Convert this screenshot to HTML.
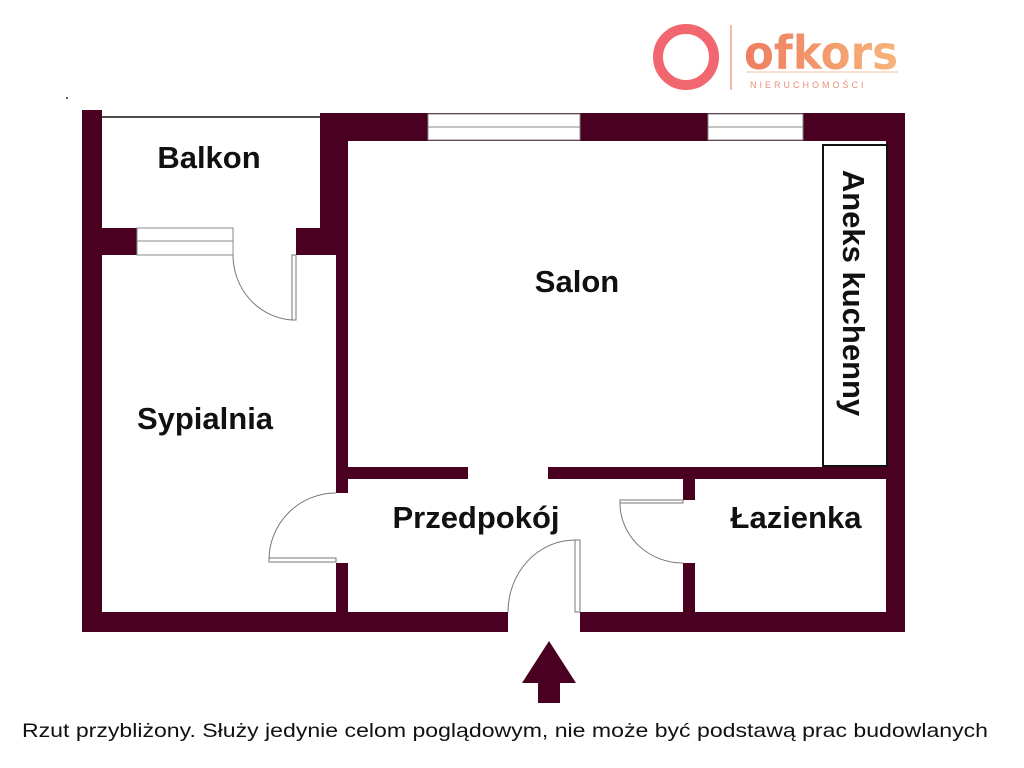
<!DOCTYPE html>
<html><head><meta charset="utf-8"><style>
html,body{margin:0;padding:0;background:#fff;}
svg{display:block;}
text{font-family:"Liberation Sans","DejaVu Sans",sans-serif;}
</style></head><body>
<svg width="1024" height="768" viewBox="0 0 1024 768" xmlns="http://www.w3.org/2000/svg">
<defs><linearGradient id="g" x1="0" x2="1"><stop offset="0" stop-color="#ef7d5f"/><stop offset="1" stop-color="#f6b57a"/></linearGradient></defs>
<rect width="1024" height="768" fill="#fff"/>
<!-- logo -->
<circle cx="686" cy="57" r="28" fill="none" stroke="#f26670" stroke-width="10"/>
<line x1="731" y1="25" x2="731" y2="90" stroke="#f0a08a" stroke-width="1.5"/>
<text x="744" y="69" font-size="46" font-weight="bold" fill="url(#g)" style="font-family:'DejaVu Sans',sans-serif" textLength="154" lengthAdjust="spacingAndGlyphs">ofkors</text>
<line x1="746" y1="72" x2="898" y2="72" stroke="#f4c0a0" stroke-width="1"/>
<text x="750" y="88" font-size="9" fill="#e8907a" letter-spacing="3">NIERUCHOMOŚCI</text>
<circle cx="67" cy="98" r="1" fill="#333"/>
<g fill="#4a0020">
<rect x="82" y="110" width="20" height="522"/>
<rect x="320" y="113" width="28" height="142"/>
<rect x="336" y="255" width="12" height="238"/>
<rect x="336" y="563" width="12" height="50"/>
<rect x="320" y="113" width="585" height="28"/>
<rect x="886" y="113" width="19" height="519"/>
<rect x="102" y="228" width="35" height="27"/>
<rect x="296" y="228" width="40" height="27"/>
<rect x="82" y="612" width="426" height="20"/>
<rect x="580" y="612" width="325" height="20"/>
<rect x="348" y="467" width="120" height="12"/>
<rect x="548" y="467" width="338" height="12"/>
<rect x="683" y="479" width="12" height="21"/>
<rect x="683" y="563" width="12" height="49"/>
<polygon points="549,641 576,683 560,683 560,703 538,703 538,683 522,683"/>
</g>
<!-- windows -->
<g fill="#fff" stroke="#888" stroke-width="1">
<rect x="428" y="114" width="152" height="26"/>
<line x1="428" y1="127" x2="580" y2="127"/>
<rect x="708" y="114" width="95" height="26"/>
<line x1="708" y1="127" x2="803" y2="127"/>
<rect x="137" y="228" width="96" height="27"/>
<line x1="137" y1="241" x2="233" y2="241"/>
</g>
<line x1="102" y1="117" x2="320" y2="117" stroke="#111" stroke-width="1.5"/>
<!-- doors -->
<g fill="none" stroke="#777" stroke-width="1">
<rect x="292" y="255" width="4" height="65" fill="#fff"/>
<path d="M233 255 A63 65 0 0 0 292 320"/>
<rect x="269" y="558" width="67" height="4" fill="#fff"/>
<path d="M336 493 A67 67 0 0 0 269 560"/>
<rect x="575" y="540" width="5" height="72" fill="#fff"/>
<path d="M508 612 A67 72 0 0 1 575 540"/>
<rect x="620" y="500" width="63" height="3" fill="#fff"/>
<path d="M620 503 A63 60 0 0 0 683 563"/>
</g>
<rect x="823" y="145" width="64" height="321" fill="#fff" stroke="#111" stroke-width="2"/>
<g font-weight="bold" fill="#111" font-size="31" text-anchor="middle">
<text x="209" y="168">Balkon</text>
<text x="577" y="292">Salon</text>
<text x="205" y="429">Sypialnia</text>
<text x="476" y="528">Przedpokój</text>
<text x="796" y="528">Łazienka</text>
<text transform="translate(843,293) rotate(90)" x="0" y="0">Aneks kuchenny</text>
</g>
<text x="505" y="737" font-size="19.5" fill="#111" text-anchor="middle" textLength="966" lengthAdjust="spacingAndGlyphs">Rzut przybliżony. Służy jedynie celom poglądowym, nie może być podstawą prac budowlanych</text>
</svg>
</body></html>
